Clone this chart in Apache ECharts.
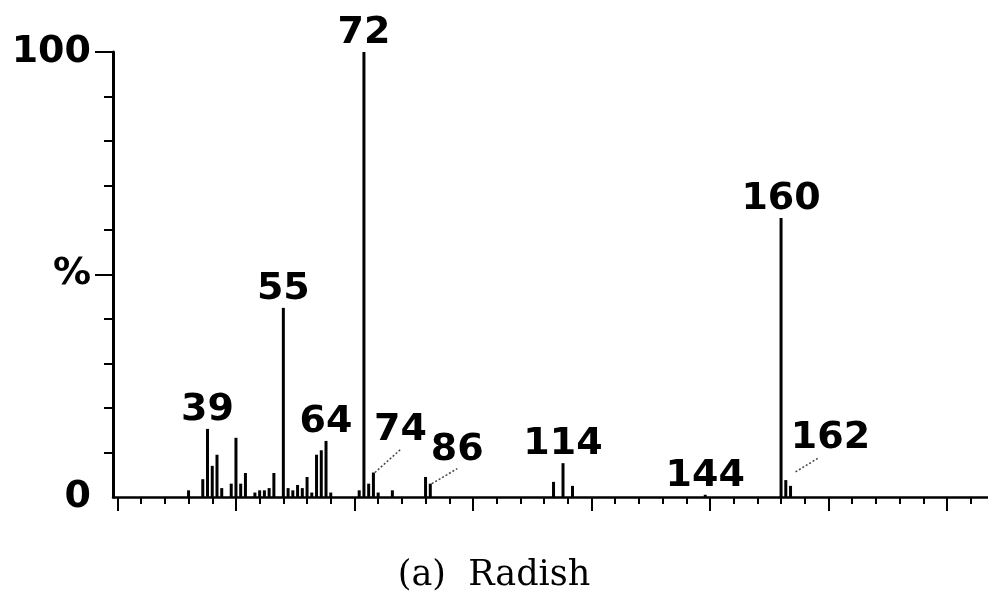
<!DOCTYPE html>
<html><head><meta charset="utf-8">
<script src="https://cdn.jsdelivr.net/npm/echarts@6/dist/echarts.min.js"></script>
<style>html,body{margin:0;padding:0;background:#fff}#c{width:988px;height:600px}</style>
</head><body><div id="c"></div>
<script>
// m/z values and relative intensities (%)
const mzValues    = [35, 38, 39, 40, 41, 42, 44, 45, 46, 47, 49, 50, 51, 52, 53, 55, 56, 57, 58, 59, 60, 61, 62, 63, 64, 65, 71, 72, 73, 74, 75, 78, 85, 86, 112, 114, 116, 144, 160, 161, 162];
const intensities = [1.5, 4, 15.3, 7, 9.5, 2, 3, 13.3, 3, 5.4, 1, 1.5, 1.5, 2, 5.4, 42.5, 2, 1.5, 2.7, 2, 4.5, 1, 9.5, 10.5, 12.6, 1, 1.5, 100, 3, 5.5, 1, 1.5, 4.5, 3, 3.4, 7.6, 2.5, 0.5, 62.7, 3.8, 2.5];
const labeledPeaks = [39, 55, 64, 72, 74, 86, 114, 144, 160, 162];
const xMajorTicks = [20, 45, 70, 95, 120, 145, 170, 195];
const xMinorTicks = [20, 25, 30, 35, 40, 45, 50, 55, 60, 65, 70, 75, 80, 85, 90, 95, 100, 105, 110, 115, 120, 125, 130, 135, 140, 145, 150, 155, 160, 165, 170, 175, 180, 185, 190, 195, 200];
const yLabelValues = [0, 50, 100];
const yLabelTexts = ['0', '%', '100'];
const yMinorTicks = [10, 20, 30, 40, 60, 70, 80, 90];
const yMajorTicks = [50, 100];
const titleText = '(a)  Radish';

// label displacement (pixels) for crowded peaks
const labelOffsets = {74: [27, -23], 86: [27, -15], 162: [40, -29]};
const guideLinePeaks = [74, 86];   // drawn with ECharts label guide lines
const freeLeaderPeak = 162;        // drawn as a short dotted leader

const chart = echarts.init(document.getElementById('c'), null, {renderer: 'canvas'});
const labelFont = {fontFamily: 'DejaVu Sans', fontWeight: 'bold', fontSize: 38, color: '#000'};
const leaderStyle = {color: '#444', type: [2, 2], width: 1.5};

const data = mzValues.map((m, i) => {
  const item = {value: [m, intensities[i]]};
  if (labeledPeaks.includes(m)) {
    item.label = Object.assign({show: true, position: 'top', distance: 0, formatter: String(m)}, labelFont);
    if (guideLinePeaks.includes(m)) item.labelLine = {show: true, lineStyle: leaderStyle};
  }
  return item;
});

const xMin = 19.06, xMax = 203.66;
const option = {
  animation: false,
  backgroundColor: '#fff',
  title: {
    text: titleText, left: 'center', top: 558, padding: 0,
    textStyle: {fontFamily: 'DejaVu Serif', fontWeight: 'normal', fontSize: 35, color: '#000'}
  },
  grid: {left: 113, right: 0, top: 52, bottom: 103},
  xAxis: [
    {type: 'value', min: xMin, max: xMax, position: 'bottom',
     axisLine: {show: true, onZero: false, lineStyle: {color: '#000', width: 2.5}},
     axisTick: {show: true, customValues: xMinorTicks, length: 7, lineStyle: {color: '#000', width: 2}},
     axisLabel: {show: false}, splitLine: {show: false}},
    {type: 'value', min: xMin, max: xMax, position: 'bottom',
     axisLine: {show: false},
     axisTick: {show: true, customValues: xMajorTicks, length: 14, lineStyle: {color: '#000', width: 2}},
     axisLabel: {show: false}, splitLine: {show: false}}
  ],
  yAxis: [
    {type: 'value', min: 0, max: 100, position: 'left',
     axisLine: {show: true, onZero: false, lineStyle: {color: '#000', width: 3}},
     axisTick: {show: true, customValues: yMinorTicks, length: 9, lineStyle: {color: '#000', width: 2}},
     axisLabel: Object.assign({show: true, customValues: yLabelValues, margin: 22,
       formatter: v => yLabelTexts[yLabelValues.indexOf(v)]}, labelFont),
     splitLine: {show: false}},
    {type: 'value', min: 0, max: 100, position: 'left',
     axisLine: {show: false},
     axisTick: {show: true, customValues: yMajorTicks, length: 18, lineStyle: {color: '#000', width: 2}},
     axisLabel: {show: false}, splitLine: {show: false}}
  ],
  series: [{
    type: 'bar', xAxisIndex: 0, yAxisIndex: 0,
    barWidth: 3,
    itemStyle: {color: '#000'},
    data: data,
    labelLayout: function (p) {
      const o = labelOffsets[mzValues[p.dataIndex]];
      return o ? {dx: o[0], dy: o[1]} : {};
    }
  }]
};
chart.setOption(option);

// short dotted leader for the 162 label, anchored to the peak through the axes
const idx = mzValues.indexOf(freeLeaderPeak);
const p = chart.convertToPixel({xAxisIndex: 0, yAxisIndex: 0}, [mzValues[idx], intensities[idx]]);
chart.setOption({graphic: [{
  type: 'line', silent: true,
  shape: {x1: p[0] + 5, y1: p[1] - 14, x2: p[0] + 28, y2: p[1] - 28},
  style: {stroke: leaderStyle.color, lineDash: [2, 2], lineWidth: leaderStyle.width}
}]});
</script></body></html>
